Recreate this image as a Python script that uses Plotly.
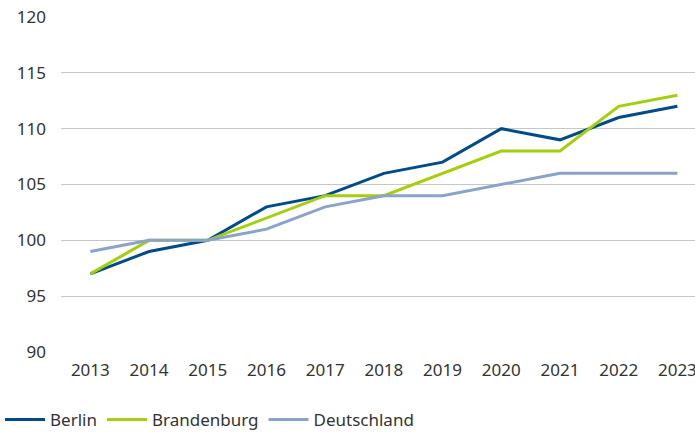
import plotly.graph_objects as go

years = [2013, 2014, 2015, 2016, 2017, 2018, 2019, 2020, 2021, 2022, 2023]
berlin = [97, 99, 100, 103, 104, 106, 107, 110, 109, 111, 112]
brandenburg = [97, 100, 100, 102, 104, 104, 106, 108, 108, 112, 113]
deutschland = [99, 100, 100, 101, 103, 104, 104, 105, 106, 106, 106]
y_ticks = [90, 95, 100, 105, 110, 115, 120]

series = [
    ("Berlin", berlin, "#004c8a"),
    ("Brandenburg", brandenburg, "#a3cf0c"),
    ("Deutschland", deutschland, "#8ba2cb"),
]

fig = go.Figure()
for name, vals, col in series:
    fig.add_trace(go.Scatter(x=years, y=vals, name=name, mode="lines",
                             line=dict(color=col, width=3)))

fig.update_layout(
    width=695, height=433,
    margin=dict(l=61, r=0, t=17, b=81, autoexpand=False),
    paper_bgcolor="white", plot_bgcolor="white",
    font=dict(family="Noto Sans", size=17, color="#333333"),
    showlegend=True,
    legend=dict(orientation="h", xref="container", yref="container",
                x=0.0, xanchor="left", y=0.03, yanchor="middle",
                font=dict(size=17), itemwidth=40, traceorder="normal"),
    xaxis=dict(range=[2012.5, 2023.3], tickmode="array", tickvals=years,
               showgrid=False, zeroline=False, showline=False, ticks="",
               ticklabelstandoff=6, automargin=False,
               ticklabeloverflow="allow"),
    yaxis=dict(range=[90, 120], tickmode="array", tickvals=y_ticks,
               showgrid=True, gridcolor="#c6c6c6", gridwidth=1.3,
               zeroline=False, showline=False, ticks="", ticklabelstandoff=14,
               automargin=False, ticklabeloverflow="allow"),
)
fig.write_html("out.html", config={"displayModeBar": False},
               post_script="document.body.style.margin='0';document.body.style.overflow='hidden';")
